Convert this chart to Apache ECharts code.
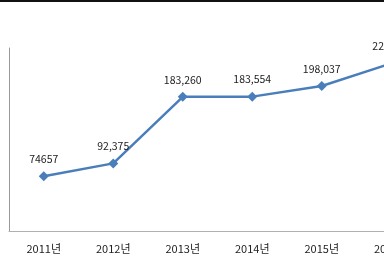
<!DOCTYPE html>
<html><head><meta charset="utf-8">
<script src="https://cdn.jsdelivr.net/npm/echarts@6/dist/echarts.min.js"></script>
<style>html,body{margin:0;padding:0;background:#fff}#c{width:384px;height:260px}</style>
</head><body><div id="c"></div>
<script>
var categories = ['2011년','2012년','2013년','2014년','2015년','2016년'];
var values = [74657, 92375, 183260, 183554, 198037, 229000];
var pointLabels = ['74657','92,375','183,260','183,554','198,037','229,000'];

var chart = echarts.init(document.getElementById('c'));
var font = '"Noto Sans CJK KR", "Noto Sans", sans-serif';
chart.setOption({
  animation: false,
  graphic: [{type:'rect', shape:{x:0,y:0,width:384,height:2}, style:{fill:'#111'}}],
  grid: {left: 9, right: -42, top: 48, bottom: 29, containLabel: false, outerBoundsMode: 'none'},
  xAxis: {
    type: 'category', data: categories, boundaryGap: true,
    axisLine: {lineStyle: {color: '#b0b0b0', width: 1}},
    axisTick: {show: false},
    axisLabel: {color: '#222', fontSize: 11, fontFamily: font, margin: 12, interval: 0}
  },
  yAxis: {
    type: 'value', min: 0, max: 250000,
    axisLine: {show: true, lineStyle: {color: '#999', width: 1}},
    axisTick: {show: false}, axisLabel: {show: false}, splitLine: {show: false}
  },
  series: [{
    type: 'line', data: values,
    symbol: 'diamond', symbolSize: 10,
    lineStyle: {color: '#4a7ebb', width: 2.5},
    itemStyle: {color: '#4a7ebb'},
    label: {show: true, position: 'top', distance: 7, color: '#222', fontSize: 10.5, fontFamily: font,
      formatter: function(p){ return pointLabels[p.dataIndex]; }}
  }]
});
</script></body></html>
